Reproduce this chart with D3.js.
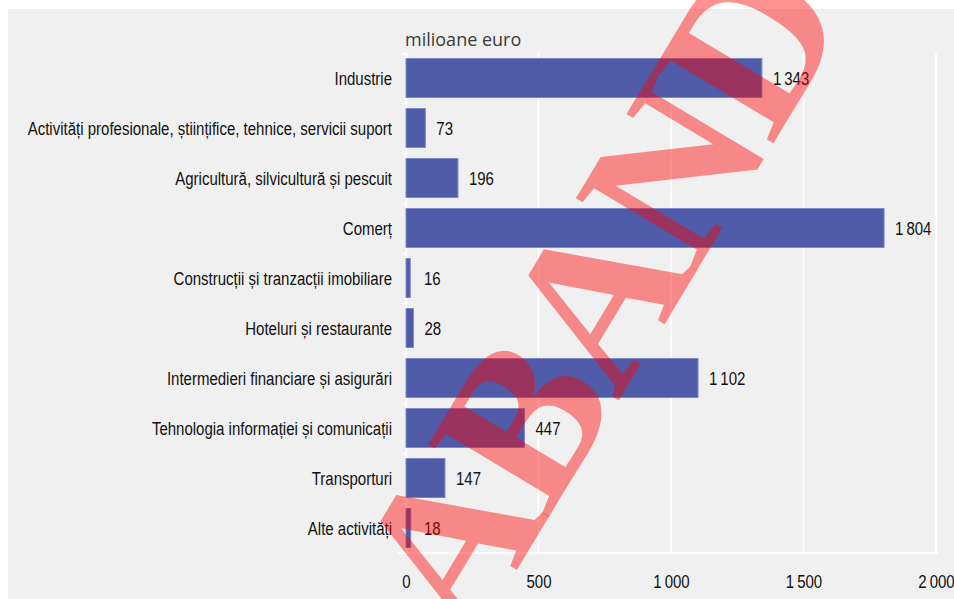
<!DOCTYPE html>
<html>
<head>
<meta charset="utf-8">
<script src="https://cdn.jsdelivr.net/npm/d3@7"></script>
<style>
  body { margin: 0; background: #ffffff; }
  svg text { font-family: "Liberation Sans", Arial, sans-serif; }
</style>
</head>
<body>
<div id="chart"></div>
<script>
// data
var categories = [
    "Industrie",
    "Activități profesionale, științifice, tehnice, servicii suport",
    "Agricultură, silvicultură și pescuit",
    "Comerț",
    "Construcții și tranzacții imobiliare",
    "Hoteluri și restaurante",
    "Intermedieri financiare și asigurări",
    "Tehnologia informației și comunicații",
    "Transporturi",
    "Alte activități"
];
var values = [1343, 73, 196, 1804, 16, 28, 1102, 447, 147, 18];
var xTicks = [0, 500, 1000, 1500, 2000];
var unitLabel = "milioane euro";
var watermark = "ABANDON";

var W = 954, H = 599;
var margin = { top: 53, right: 18, bottom: 46, left: 406 };
const width = W - margin.left - margin.right;
const height = H - margin.top - margin.bottom;
var narrow = 0.79; // condensed look
var labelSize = "19px";

var fmt = d3.formatLocale({ decimal: ",", thousands: "\u2009", grouping: [3], currency: ["", ""] }).format(",d");

var svg = d3.select("#chart")
    .append("svg")
    .attr("width", W)
    .attr("height", H);

// panel background
svg.append("rect")
    .attr("x", 8).attr("y", 9)
    .attr("width", W - 8).attr("height", H - 9)
    .attr("fill", "#f0f0f0");

var g = svg.append("g")
    .attr("transform", "translate(" + margin.left + "," + margin.top + ")");

var x = d3.scaleLinear().domain([0, 2000]).range([0, width]);
var y = d3.scaleBand().domain(categories).range([0, height]).paddingInner(0.22).paddingOuter(0.11);

// white gridlines
g.selectAll(".grid")
    .data(xTicks)
    .enter()
    .append("line")
    .attr("x1", function (d) { return x(d); })
    .attr("x2", function (d) { return x(d); })
    .attr("y1", 0)
    .attr("y2", height)
    .attr("stroke", "#ffffff")
    .attr("stroke-width", 1.5);

// bottom axis
var xAxis = g.append("g")
    .attr("transform", "translate(0," + height + ")")
    .call(d3.axisBottom(x).tickValues(xTicks).tickSize(0).tickPadding(22).tickFormat(fmt));
xAxis.select(".domain").remove();
xAxis.selectAll("text")
    .attr("font-size", labelSize)
    .attr("fill", "#111")
    .attr("transform", "scale(" + narrow + ",1)");
g.append("line")
    .attr("x1", -8).attr("x2", width + 2)
    .attr("y1", height).attr("y2", height)
    .attr("stroke", "#ffffff")
    .attr("stroke-width", 2);

// left axis: boundary ticks between categories
var bounds = d3.scaleLinear().domain([0, categories.length]).range([0, height]);
var yAxis = g.append("g")
    .call(d3.axisLeft(bounds).ticks(categories.length).tickSize(4).tickFormat(""));
yAxis.selectAll("line, path").attr("stroke", "#ffffff").attr("stroke-width", 1.5);

// category labels
g.selectAll(".cat")
    .data(categories)
    .enter()
    .append("text")
    .attr("transform", function (d) {
        return "translate(-14," + (y(d) + y.bandwidth() / 2) + ") scale(" + narrow + ",1)";
    })
    .attr("dy", "0.35em")
    .attr("text-anchor", "end")
    .attr("font-size", labelSize)
    .attr("fill", "#111")
    .text(function (d) { return d; });

// bars
g.selectAll(".bar")
    .data(values)
    .enter()
    .append("rect")
    .attr("x", x(0))
    .attr("y", function (d, i) { return y(categories[i]); })
    .attr("width", function (d) { return x(d) - x(0); })
    .attr("height", y.bandwidth())
    .attr("fill", "#4f5ba8")
    .attr("stroke", "#7f88c6")
    .attr("stroke-width", 1);

// value labels
g.selectAll(".val")
    .data(values)
    .enter()
    .append("text")
    .attr("transform", function (d, i) {
        var tx = Math.max(x(d), x(0) + 7) + 11;
        return "translate(" + tx + "," + (y(categories[i]) + y.bandwidth() / 2) + ") scale(" + narrow + ",1)";
    })
    .attr("dy", "0.35em")
    .attr("font-size", labelSize)
    .attr("fill", "#111")
    .text(function (d) { return fmt(d); });

// unit label
svg.append("text")
    .attr("x", margin.left - 1)
    .attr("y", 46)
    .attr("font-size", "18px")
    .style("font-family", "'Open Sans', sans-serif")
    .attr("fill", "#3a3a3a")
    .text(unitLabel);

// watermark
svg.append("text")
    .attr("transform", "translate(470,648) rotate(-59)")
    .style("font-family", "'Liberation Serif', 'DejaVu Serif', serif")
    .attr("font-size", "215px")
    .attr("letter-spacing", "-6px")
    .attr("font-weight", "bold")
    .attr("fill", "#ff0000")
    .attr("fill-opacity", 0.43)
    .text(watermark);
</script>
</body>
</html>
